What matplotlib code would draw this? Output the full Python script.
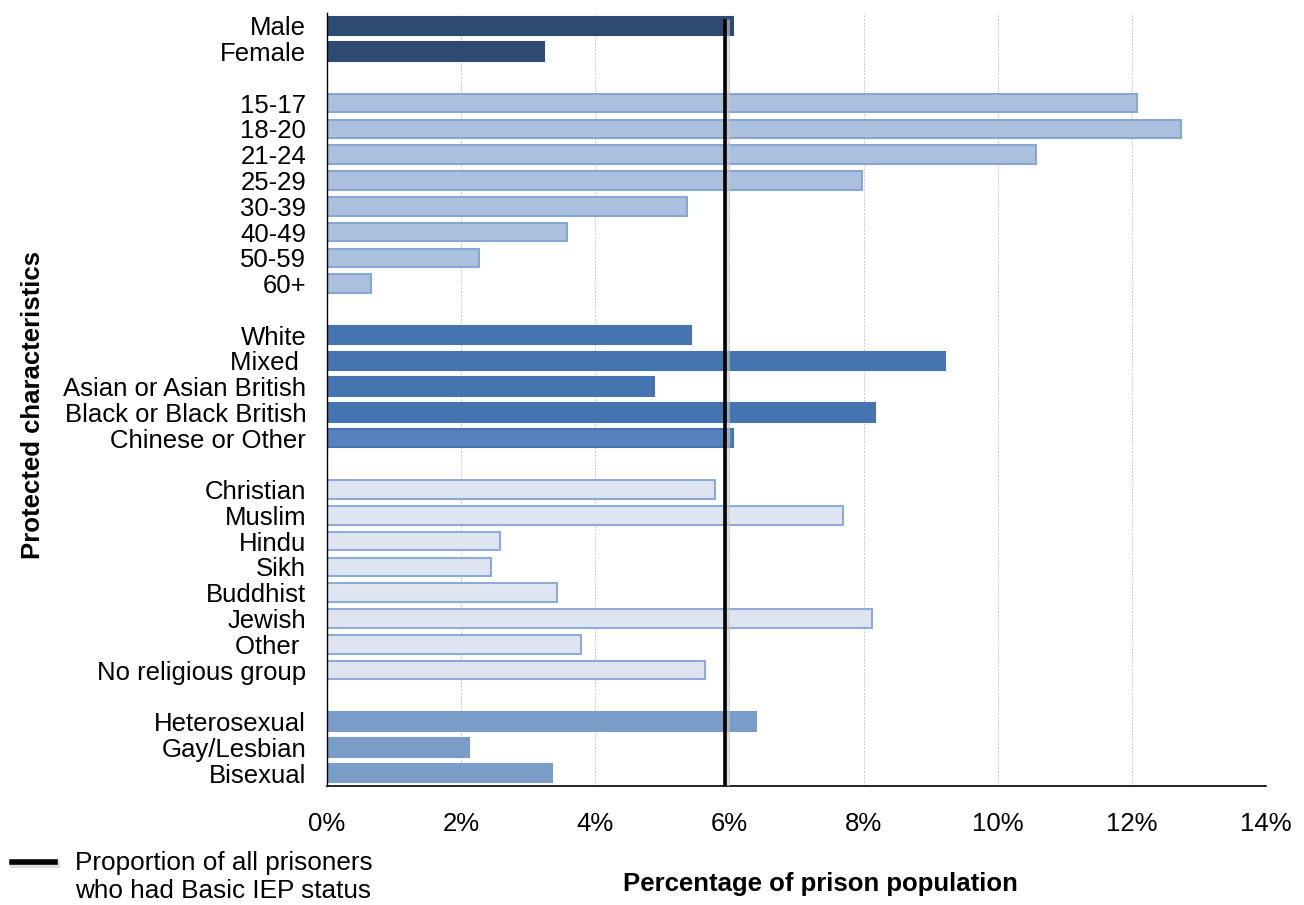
import matplotlib.pyplot as plt
from matplotlib.ticker import FuncFormatter

plt.rcParams['font.family'] = ['Liberation Sans', 'DejaVu Sans']

# groups of protected characteristics (percent with Basic IEP status)
gender = ['Male', 'Female']
gender_pct = [6.06, 3.24]

age = ['15-17', '18-20', '21-24', '25-29', '30-39', '40-49', '50-59', '60+']
age_pct = [12.07, 12.73, 10.57, 7.97, 5.36, 3.58, 2.26, 0.65]

ethnicity = ['White', 'Mixed ', 'Asian or Asian British', 'Black or Black British',
             'Chinese or Other']
ethnicity_pct = [5.43, 9.22, 4.87, 8.17, 6.05]

religion = ['Christian', 'Muslim', 'Hindu', 'Sikh', 'Buddhist', 'Jewish', 'Other ',
            'No religious group']
religion_pct = [5.79, 7.69, 2.58, 2.45, 3.43, 8.12, 3.78, 5.64]

orientation = ['Heterosexual', 'Gay/Lesbian', 'Bisexual']
orientation_pct = [6.40, 2.12, 3.35]

all_prisoners_pct = 5.93

# fill, edge colours per group
styles = [
    ('#2e4a70', '#2e4a70'),
    ('#abc0de', '#88a6d2'),
    ('#4674b0', '#4674b0'),
    ('#dde5f0', '#8eaad6'),
    ('#7a9cc8', '#7a9cc8'),
]
groups = [
    (gender, gender_pct),
    (age, age_pct),
    (ethnicity, ethnicity_pct),
    (religion, religion_pct),
    (orientation, orientation_pct),
]

FS = 18.5

fig = plt.figure(figsize=(13.04, 9.05), dpi=100)
ax = fig.add_axes([327 / 1304, 1 - 786 / 905, 939 / 1304, 773 / 905])

pos = 0
ticks = []
labels = []
for (names, vals), (fc, ec) in zip(groups, styles):
    for i, (n, v) in enumerate(zip(names, vals)):
        c = fc
        if n == 'Chinese or Other':
            c = '#5782be'
        ax.barh(pos, v, height=0.72, color=c, edgecolor=ec, linewidth=1.5, zorder=2)
        ticks.append(pos)
        labels.append(n)
        pos += 1
    pos += 1
last = pos - 2

ax.set_ylim(last + 0.5, -0.5)
ax.set_xlim(0, 14)
ax.set_yticks(ticks)
ax.set_yticklabels(labels, fontsize=FS)
ax.set_xticks(range(0, 15, 2))
ax.xaxis.set_major_formatter(FuncFormatter(lambda x, p: f'{x:.0f}%'))
ax.tick_params(axis='x', labelsize=FS, length=0, pad=19)
ax.tick_params(axis='y', length=0, pad=15)

ax.grid(axis='x', color='#c8c8c8', linestyle=(0, (2, 1.5)), linewidth=0.7, zorder=0)
for s in ['top', 'right']:
    ax.spines[s].set_visible(False)
ax.spines['left'].set_color('black')
ax.spines['bottom'].set_color('black')
ax.spines['left'].set_linewidth(1)
ax.spines['bottom'].set_linewidth(1.2)

# overall proportion marker line
ax.plot([all_prisoners_pct + 0.03] * 2, [-0.25, last + 0.5], color='#c8c8c8',
        linewidth=3.5, alpha=0.6, zorder=3, solid_capstyle='butt')
ax.plot([all_prisoners_pct] * 2, [-0.25, last + 0.5], color='black',
        linewidth=2.6, zorder=4, solid_capstyle='butt')

fig.text(33 / 1304, 1 - 405 / 905, 'Protected characteristics', rotation=90,
         fontsize=FS, fontweight='bold', ha='center', va='center')
fig.text(820 / 1304, 1 - 884 / 905, 'Percentage of prison population',
         fontsize=FS, fontweight='bold', ha='center', va='center')

# legend entry drawn by hand
fig.add_artist(plt.Line2D([13 / 1304, 56 / 1304], [1 - 864 / 905] * 2,
                          color='#cfcfcf', linewidth=5, alpha=0.7))
fig.add_artist(plt.Line2D([12 / 1304, 55 / 1304], [1 - 862 / 905] * 2,
                          color='black', linewidth=4))
fig.text(75 / 1304, 1 - 877 / 905,
         'Proportion of all prisoners\nwho had Basic IEP status',
         fontsize=FS + 0.3, ha='left', va='center', linespacing=1.25)

fig.savefig('out.png', dpi=100)
